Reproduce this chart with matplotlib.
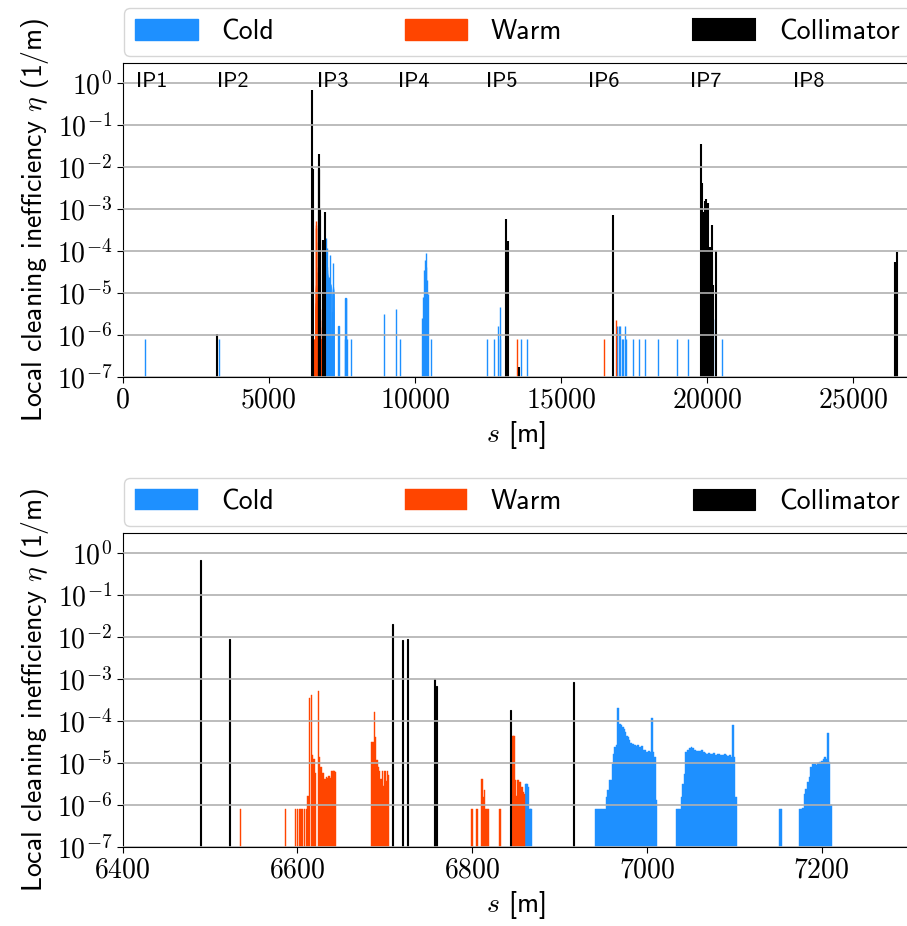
import numpy as np
import matplotlib
matplotlib.use("Agg")
import matplotlib.pyplot as plt
from matplotlib.ticker import FixedLocator, FuncFormatter, NullLocator

plt.rcParams['font.family'] = 'cmss10'
plt.rcParams['mathtext.fontset'] = 'cm'
plt.rcParams['axes.unicode_minus'] = False

COLD = '#1E90FF'
WARM = '#FF4500'
COLL = 'black'

# --- cold losses (s [m], eta [1/m]) ---
cold_s = [764, 3310,
          # IP3 detail, first cold stretch
          6861.5, 6863, 6864.5, 6866, 6867.5,
          6942, 6944, 6946, 6948, 6950, 6952, 6954, 6955.5, 6957, 6959, 6960.5,
          6962, 6963.5, 6965, 6966.5, 6968, 6969.5, 6971, 6972.5, 6974, 6975.5,
          6977, 6978.5, 6980, 6982, 6984, 6986, 6988, 6990, 6992, 6994, 6996,
          6998, 7000, 7002, 7004, 7005.5, 7007, 7009, 7010.5,
          7034, 7036, 7038, 7039.5, 7041, 7043, 7045, 7047, 7049, 7051, 7053,
          7055, 7057, 7059, 7061, 7063, 7065, 7067, 7069, 7071, 7073, 7075,
          7077, 7079, 7081, 7083, 7085, 7087, 7089, 7091, 7093, 7095, 7097,
          7098.7, 7100, 7101.5,
          7152, 7154,
          7175, 7177, 7179, 7180.5, 7182, 7184, 7186, 7188, 7190, 7192, 7194,
          7196, 7198, 7200, 7202, 7203.5, 7205, 7207.4, 7209, 7210.5,
          # rest of the ring
          7390, 7600, 7630, 7660, 7690, 7808, 8949, 9365, 9505,
          10261, 10290, 10318, 10350, 10376, 10400, 10430, 10455, 10547,
          12466, 12700, 12860, 12905, 12930, 13630, 13830,
          16940, 16990, 17040, 17090, 17140, 17190, 17240,
          17466, 17671, 17898, 18343, 18973, 19370, 20286, 20536]
cold_eta = [7.8e-7, 7.8e-7,
            3.1e-6, 3.1e-6, 2.7e-6, 7.8e-7, 7.8e-7,
            7.8e-7, 7.8e-7, 7.8e-7, 7.8e-7, 7.8e-7, 7.8e-7, 1.5e-6, 2.2e-6, 3.8e-6, 3.8e-6, 9.5e-6,
            1.65e-5, 2.4e-5, 2.6e-5, 2.0e-4, 6.0e-5, 8.3e-5, 7.8e-5, 7.2e-5, 6.5e-5, 5.4e-5,
            4.3e-5, 4.1e-5, 3.4e-5, 2.9e-5, 2.75e-5, 2.6e-5, 2.5e-5, 2.6e-5, 2.4e-5, 2.5e-5, 2.05e-5,
            2.0e-5, 1.8e-5, 1.9e-5, 1.8e-5, 1.15e-4, 1.8e-5, 1.4e-5, 1.3e-6,
            7.8e-7, 7.8e-7, 7.8e-7, 1.5e-6, 3.2e-6, 5.5e-6, 1.8e-5, 2.0e-5, 2.3e-5, 2.4e-5, 2.2e-5,
            2.0e-5, 1.9e-5, 1.9e-5, 1.9e-5, 2.0e-5, 1.8e-5, 1.7e-5, 1.65e-5, 1.7e-5, 1.6e-5, 1.6e-5,
            1.7e-5, 1.5e-5, 1.6e-5, 1.6e-5, 1.5e-5, 1.55e-5, 1.6e-5, 1.5e-5, 1.45e-5, 1.5e-5, 1.4e-5,
            8.0e-5, 1.4e-5, 1.5e-6,
            7.8e-7, 7.8e-7,
            7.8e-7, 7.8e-7, 8.3e-7, 1.8e-6, 2.4e-6, 3.4e-6, 4.6e-6, 7.9e-6, 9.5e-6, 9.5e-6, 9.0e-6,
            1.0e-5, 1.05e-5, 1.1e-5, 1.2e-5, 1.4e-5, 1.2e-5, 5.0e-5, 1.05e-5, 1.0e-6,
            1.6e-6, 7.8e-7, 7.3e-6, 7.3e-6, 7.8e-7, 7.8e-7, 3.1e-6, 4.0e-6, 7.8e-7,
            2.5e-6, 8.0e-6, 3.5e-5, 6.0e-5, 9.0e-5, 4.0e-5, 2.0e-5, 9.5e-6, 7.8e-7,
            7.8e-7, 7.8e-7, 1.6e-6, 4.6e-6, 7.8e-7, 7.8e-7, 7.8e-7,
            1.6e-6, 1.6e-6, 1.6e-6, 7.8e-7, 7.8e-7, 1.6e-6, 7.8e-7,
            7.8e-7, 7.8e-7, 7.8e-7, 7.8e-7, 7.8e-7, 7.8e-7, 2.4e-6, 7.8e-7]

# --- warm losses ---
warm_s = [6535, 6586, 6598, 6600, 6603, 6605, 6608, 6610,
          6612, 6614, 6616, 6617.5, 6619, 6620.5, 6624, 6625.5, 6627, 6628.5,
          6630, 6631.5, 6633, 6634.5, 6636, 6637.5, 6639, 6640.5, 6642, 6643.5,
          6685, 6686.5, 6688, 6689.5, 6691, 6692.5, 6694, 6695.5, 6697, 6698.5,
          6700, 6701.5, 6703, 6704.5,
          6799.7, 6805.4, 6811, 6812.5, 6814, 6815.5, 6817, 6818.5, 6832,
          6846.6, 6848, 6849.5, 6851, 6852.5, 6854, 6855.5, 6857, 6858.5, 6860,
          13493, 16484, 16883, 19909]
warm_eta = [7.8e-7, 7.8e-7, 7.8e-7, 7.8e-7, 7.8e-7, 7.8e-7, 7.8e-7, 7.8e-7,
            1.6e-6, 3.5e-4, 4.2e-4, 1.5e-5, 1.2e-5, 5.6e-6, 5.0e-4, 1.4e-5, 8.0e-6, 5.6e-6,
            5.8e-6, 4.0e-6, 4.7e-6, 4.4e-6, 4.8e-6, 4.4e-6, 6.3e-6, 6.3e-6, 6.3e-6, 6.0e-6,
            3.2e-5, 3.2e-5, 1.6e-4, 4.2e-5, 1.15e-5, 8.0e-6, 6.3e-6, 4.0e-6, 6.3e-6, 2.8e-6,
            6.3e-6, 3.6e-6, 6.3e-6, 5.0e-6,
            7.8e-7, 7.8e-7, 4.0e-6, 1.5e-6, 2.3e-6, 7.8e-7, 7.8e-7, 7.8e-7, 7.8e-7,
            4.3e-5, 4.3e-5, 3.9e-6, 1.6e-6, 3.9e-6, 3.5e-6, 3.4e-6, 2.7e-6, 2.0e-6, 1.8e-6,
            7.8e-7, 7.8e-7, 2.3e-6, 7.8e-7]

# --- collimator losses ---
coll_s = [3240, 6488.5, 6521.7, 6708.5, 6720.4, 6726, 6757, 6759.5, 6844.3, 6916.4,
          13127, 13195, 13575, 16802,
          19806, 19829, 19850, 19886, 19943, 19989, 20034, 20114, 20171, 20183,
          20229, 20331, 26460, 26520]
coll_eta = [1.05e-6, 0.68, 8.9e-3, 2.0e-2, 8.3e-3, 8.9e-3, 1.0e-3, 6.6e-4, 1.8e-4, 8.5e-4,
            5.6e-4, 1.7e-4, 1.7e-7, 6.9e-4,
            3.4e-2, 4.0e-3, 4.5e-4, 8.5e-4, 1.5e-3, 1.7e-3, 1.35e-3, 1.2e-4, 4.0e-4, 6.0e-5,
            1.5e-5, 1.0e-4, 5.5e-5, 9.5e-5]

ip_labels = ['IP1', 'IP2', 'IP3', 'IP4', 'IP5', 'IP6', 'IP7', 'IP8']
ip_s = [990, 3780, 7200, 9980, 12980, 16480, 19980, 23490]

y_ticks = [1e-7, 1e-6, 1e-5, 1e-4, 1e-3, 1e-2, 1e-1, 1e0]
x_ticks_full = [0, 5000, 10000, 15000, 20000, 25000]
x_ticks_ip3 = [6400, 6600, 6800, 7000, 7200]


def draw(ax, lw):
    ax.bar(cold_s, cold_eta, width=2.0, color=COLD, edgecolor=COLD, linewidth=lw, label='Cold')
    ax.bar(warm_s, warm_eta, width=1.6, color=WARM, edgecolor=WARM, linewidth=lw, label='Warm')
    ax.bar(coll_s, coll_eta, width=1.2, color=COLL, edgecolor=COLL, linewidth=lw + 0.5,
           label='Collimator')
    ax.set_yscale('log')
    ax.set_ylim(1e-7, 2.9)
    ax.yaxis.set_major_locator(FixedLocator(y_ticks))
    ax.yaxis.set_minor_locator(NullLocator())
    ax.yaxis.set_major_formatter(FuncFormatter(lambda v, p: r'$10^{%d}$' % round(np.log10(v))))
    ax.xaxis.set_major_formatter(FuncFormatter(lambda v, p: r'$%d$' % v))
    ax.tick_params(labelsize=20, length=4)
    ax.set_axisbelow(False)
    ax.yaxis.grid(True, color='#b0b0b0', linewidth=1.2)
    ax.set_xlabel(r'$s$ [m]', fontsize=20, labelpad=5)
    ax.set_ylabel(r'Local cleaning inefficiency $\eta$ (1/m)', fontsize=20, labelpad=4)
    ax.legend(loc='lower left', bbox_to_anchor=(0.002, 1.025, 1.0, 0.15), mode='expand',
              ncol=3, fontsize=20, handlelength=2.25, handleheight=0.8,
              handletextpad=0.85, borderaxespad=0)


fig = plt.figure(figsize=(9.07, 9.26), dpi=100)
ax1 = fig.add_axes([0.1353, 0.5932, 0.867, 0.3384])
ax2 = fig.add_axes([0.1353, 0.0856, 0.867, 0.3384])

draw(ax1, 1.0)
ax1.set_xlim(0, 26930)
ax1.set_xticks(x_ticks_full)
for name, s in zip(ip_labels, ip_s):
    ax1.text(s, 0.8, name, fontsize=16, ha='center', va='baseline')

draw(ax2, 0.3)
ax2.set_xlim(6400, 7300)
ax2.set_xticks(x_ticks_ip3)

fig.savefig('out.png', dpi=100)
